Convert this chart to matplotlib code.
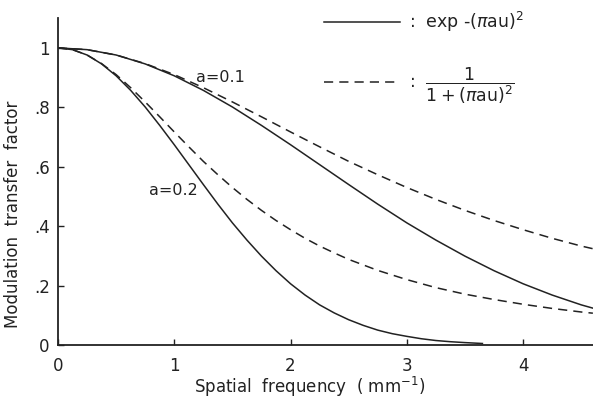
import numpy as np
import matplotlib
matplotlib.use("Agg")
import matplotlib.pyplot as plt
from matplotlib.lines import Line2D

# spatial frequency (mm^-1) sampled along the a=0.1 curves
u = [0, 0.25, 0.5, 0.75, 1.0, 1.25, 1.5, 1.75, 2.0, 2.25, 2.5, 2.75,
     3.0, 3.25, 3.5, 3.75, 4.0, 4.25, 4.5, 4.6]

# values
gauss_01 = [1.0, 0.994, 0.976, 0.946, 0.906, 0.857, 0.801, 0.739, 0.674, 0.607,
            0.540, 0.474, 0.411, 0.353, 0.299, 0.250, 0.206, 0.168, 0.135, 0.124]
lorentz_01 = [1.0, 0.994, 0.976, 0.947, 0.910, 0.866, 0.818, 0.768, 0.717, 0.667,
              0.618, 0.573, 0.530, 0.490, 0.453, 0.419, 0.388, 0.359, 0.333, 0.324]

# a=0.2 curves are steeper, so read at a finer step
u_g02 = [0, 0.125, 0.25, 0.375, 0.5, 0.625, 0.75, 0.875, 1.0, 1.125, 1.25, 1.375,
         1.5, 1.625, 1.75, 1.875, 2.0, 2.125, 2.25, 2.375, 2.5, 2.625, 2.75,
         2.875, 3.0, 3.125, 3.25, 3.375, 3.5, 3.65]
gauss_02 = [1.0, 0.994, 0.976, 0.946, 0.906, 0.857, 0.801, 0.739, 0.674, 0.607,
            0.540, 0.474, 0.411, 0.353, 0.299, 0.250, 0.206, 0.168, 0.135, 0.108,
            0.085, 0.066, 0.050, 0.038, 0.029, 0.021, 0.015, 0.011, 0.008, 0.005]

u_l02 = [0, 0.125, 0.25, 0.375, 0.5, 0.625, 0.75, 0.875, 1.0, 1.125, 1.25, 1.375,
         1.5, 1.625, 1.75, 1.875, 2.0, 2.125, 2.25, 2.375, 2.5, 2.75,
         3.0, 3.25, 3.5, 3.75, 4.0, 4.25, 4.5, 4.6]
lorentz_02 = [1.0, 0.994, 0.976, 0.947, 0.910, 0.866, 0.818, 0.768, 0.717, 0.667,
              0.618, 0.573, 0.530, 0.490, 0.453, 0.419, 0.388, 0.359, 0.333, 0.310,
              0.288, 0.251, 0.220, 0.193, 0.171, 0.153, 0.137, 0.123, 0.111, 0.107]

xticks = [0, 1, 2, 3, 4]
yticks = [0, 0.2, 0.4, 0.6, 0.8, 1.0]
ytick_labels = ["0", ".2", ".4", ".6", ".8", "1"]

ink = "#222222"
plt.rcParams["font.family"] = "DejaVu Sans"
plt.rcParams["mathtext.fontset"] = "dejavusans"

fig = plt.figure(figsize=(5.93, 4.01), dpi=100)
ax = fig.add_axes([0.0978, 0.1397, 0.902, 0.815])

dash = (0, (6, 4))
ax.plot(u, gauss_01, color=ink, lw=1.1)
ax.plot(u, lorentz_01, color=ink, lw=1.1, linestyle=dash)
ax.plot(u_g02, gauss_02, color=ink, lw=1.1)
ax.plot(u_l02, lorentz_02, color=ink, lw=1.1, linestyle=dash)

ax.text(1.40, 0.90, "a=0.1", fontsize=11.5, color=ink, ha="center", va="center")
ax.text(0.99, 0.52, "a=0.2", fontsize=11.5, color=ink, ha="center", va="center")

ax.set_xlim(0, 4.6)
ax.set_ylim(0, 1.1)
ax.set_xticks(xticks)
ax.set_yticks(yticks)
ax.set_yticklabels(ytick_labels)
ax.tick_params(direction="in", length=4, width=1, colors=ink, labelsize=12, pad=6)
ax.tick_params(axis="x", pad=9)

for side in ["top", "right"]:
    ax.spines[side].set_visible(False)
for side in ["left", "bottom"]:
    ax.spines[side].set_linewidth(1.3)
    ax.spines[side].set_color(ink)

ax.set_xlabel("Spatial  frequency  ( mm$^{-1}$)", fontsize=12, color=ink)
ax.set_ylabel("Modulation  transfer  factor", fontsize=12, color=ink)
ax.xaxis.set_label_coords(0.47, -0.093)
ax.yaxis.set_label_coords(-0.068, 0.40)

handles = [Line2D([], [], color=ink, lw=1.1),
           Line2D([], [], color=ink, lw=1.1, linestyle=dash)]
labels = [":  exp -($\\pi$au)$^2$", ":  $\\dfrac{1}{1+(\\pi \\mathrm{au})^2}$"]
fig.legend(handles, labels, loc="upper left", bbox_to_anchor=(0.52, 1.015),
           frameon=False, fontsize=12.5, handlelength=4.4, handletextpad=0.5,
           labelspacing=1.85, labelcolor=ink)

fig.savefig("out.png", dpi=100)
